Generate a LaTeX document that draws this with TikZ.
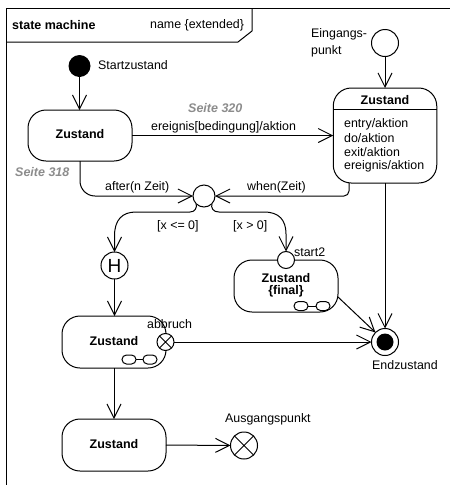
\documentclass[tikz,border=0pt]{standalone}
\usepackage{fontspec}
\setmainfont{Liberation Sans}
\usetikzlibrary{arrows.meta,positioning,calc}
\tikzset{
  x=1pt,y=-1pt,
  lw/.style={line width=1pt,black},
  tr/.style={lw,-{Straight Barb[length=14pt,width=14pt,line width=1pt]}},
  state/.style={lw,draw,fill=white,rectangle,rounded corners=18pt,inner sep=0pt,outer sep=0pt,minimum width=104pt,minimum height=52pt,align=center},
  big/.style={lw,draw,fill=white,circle,inner sep=0pt,outer sep=0pt,minimum size=27pt},
  small/.style={lw,draw,fill=white,circle,inner sep=0pt,outer sep=0pt,minimum size=17pt},
  txt/.style={font=\fontsize{12.4}{13.5}\selectfont,inner sep=0pt,text=black},
  btxt/.style={font=\fontsize{12.5}{13.5}\selectfont\bfseries,inner sep=0pt,text=black,align=center},
  seite/.style={font=\fontsize{12.5}{14}\selectfont\bfseries\itshape,inner sep=0pt,text=black!45},
  capsule/.style={lw,draw,fill=white,rectangle,rounded corners=4.5pt,inner sep=0pt,outer sep=0pt,minimum width=14pt,minimum height=9pt},
}
\begin{document}
\begin{tikzpicture}
\useasboundingbox (0,0) rectangle (450,485);
\fill[white] (0,0) rectangle (450,485);
% frame
\draw[lw] (6,485) -- (6,8) -- (450,8);
\draw[lw] (6,42) -- (238,42) -- (252,31) -- (252,8);
\node[btxt,anchor=west] (fname) at (12,25) {state machine};
\node[txt,anchor=west] (fext) at (150,25) {name \{extended\}};
% states
\node[state,minimum height=51pt] (s1) at (80,135.5) {};
\node[btxt] (s1t) at (80,134) {Zustand};
\node[state,minimum width=103.5pt,minimum height=95pt] (s2) at (385,135.5) {};
\node[btxt] (s2t) at (385,100) {Zustand};
\draw[lw] (s2.west |- 0,109.5) coordinate (s2l) -- (s2.east |- 0,109.5) coordinate (s2r);
\node[txt,anchor=west] (e1) at (344,124.5) {entry/aktion};
\node[txt,anchor=west] (e2) at (344,138) {do/aktion};
\node[txt,anchor=west] (e3) at (344,152) {exit/aktion};
\node[txt,anchor=west] (e4) at (344,166) {ereignis/aktion};
\node[state] (s3) at (286,286) {};
\node[btxt] (s3t) at (286,278) {Zustand};
\node[btxt] (s3u) at (286,291.5) {\{final\}};
\node[state] (s4) at (114,342) {};
\node[btxt] (s4t) at (114,341) {Zustand};
\node[state] (s5) at (114,445) {};
\node[btxt] (s5t) at (114,444) {Zustand};
% composite icons
\node[capsule] (c1) at (301,306) {};
\node[capsule] (c2) at (323,306) {};
\draw[lw] (c1) -- (c2);
\node[capsule] (c3) at (129,359.5) {};
\node[capsule] (c4) at (150,359.5) {};
\draw[lw] (c3) -- (c4);
% pseudostates
\node[circle,fill=black,inner sep=0pt,minimum size=22pt] (start) at (79.5,66) {};
\node[big] (entry) at (385,43) {};
\node[circle,lw,draw,fill=white,inner sep=0pt,outer sep=0pt,minimum size=22pt] (ch) at (204,196) {};
\node[big,font=\fontsize{19}{20}\selectfont] (h) at (114.5,265.5) {H};
\node[small] (st2) at (286,260) {};
\node[small] (ab) at (165.5,342) {};
\draw[lw] (ab.north west) -- (ab.south east) (ab.north east) -- (ab.south west);
\node[big] (end) at (385,342) {};
\node[circle,fill=black,inner sep=0pt,minimum size=17pt] (endin) at (385,342) {};
\node[big] (ex) at (244,445.5) {};
\draw[lw] (ex.north west) -- (ex.south east) (ex.north east) -- (ex.south west);
% transitions
\draw[tr] (start) -- (s1.north -| start);
\draw[tr] (entry) -- (s2.north -| entry);
\draw[tr] (s1.east) -- (s2.west);
\draw[tr,rounded corners=15pt] (s1.south) |- (ch.west);
\coordinate (whenup) at (349,183);
\draw[tr,rounded corners=5pt] (whenup) |- (ch.east);
\coordinate (cl1) at (190,212);
\coordinate (cl2) at (136,212);
\coordinate (cr1) at (219,212);
\coordinate (cr2) at (264,212);
\draw[tr] (ch.south west) .. controls (197,208) and (195,212) .. (cl1) -- (cl2) .. controls (122,212) and (114.5,220) .. (114.5,236) -- (h.north);
\draw[tr] (ch.south east) .. controls (211,208) and (213,212) .. (cr1) -- (cr2) .. controls (279,212) and (286,220) .. (286,234) -- (st2.north);
\draw[tr] (h.south) -- (s4.north -| h);
\draw[tr] (s4.south) -- (s5.north);
\draw[tr] (s5.east) -- (ex.west);
\draw[tr] (ab.east) -- (end.west);
\draw[tr] (s2.south -| end) -- (end.north);
\coordinate (s3out) at (338,297);
\draw[tr] (s3out) -- (end.north west);
% labels
\node[txt,anchor=west] (lstart) at (98,65) {Startzustand};
\node[txt,anchor=west] (lein1) at (311,34) {Eingangs-};
\node[txt,anchor=west] (lein2) at (311,51) {punkt};
\node[seite,anchor=west] (ls320) at (188,108) {Seite 320};
\node[txt,anchor=west] (lev) at (151,127) {ereignis[bedingung]/aktion};
\node[seite,anchor=west] (ls318) at (15,172) {Seite 318};
\node[txt,anchor=west] (laf) at (105,187) {after(n Zeit)};
\node[txt,anchor=west] (lwh) at (247,187) {when(Zeit)};
\node[txt,anchor=west] (lx1) at (157,226) {[x <= 0]};
\node[txt,anchor=west] (lx2) at (233,226) {[x > 0]};
\node[txt,anchor=west] (lst2) at (294,252) {start2};
\node[txt,anchor=west] (lab) at (147,324) {abbruch};
\node[txt,anchor=west] (lend) at (372,365) {Endzustand};
\node[txt,anchor=west] (laus) at (225,419) {Ausgangspunkt};
\end{tikzpicture}
\end{document}
